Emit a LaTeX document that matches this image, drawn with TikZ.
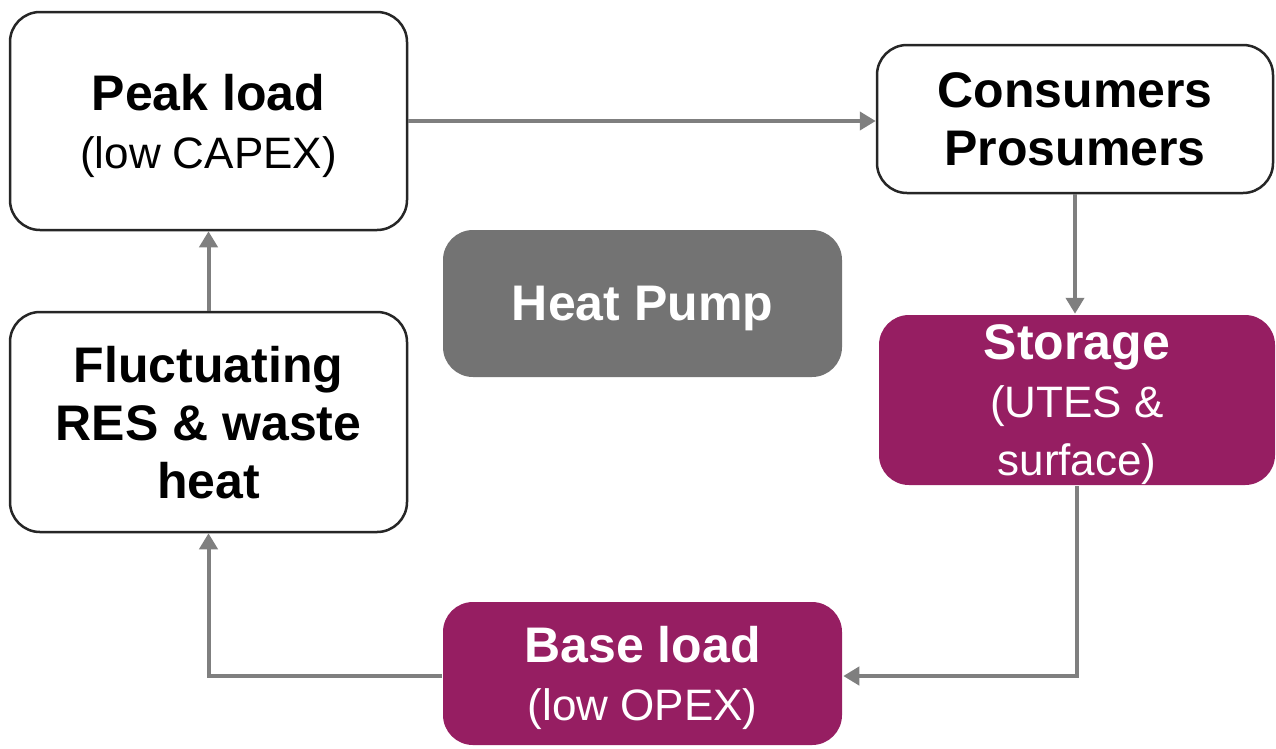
\documentclass[tikz,border=0pt]{standalone}
\usepackage{fontspec}
\setmainfont{Liberation Sans}
\usetikzlibrary{arrows.meta,positioning,calc}
\definecolor{plum}{HTML}{961E62}
\definecolor{pumpgray}{HTML}{737373}
\definecolor{linkgray}{HTML}{7F7F7F}
\newcommand{\bt}[1]{{\fontsize{50}{58}\selectfont\bfseries #1}}
\newcommand{\rt}[1]{{\fontsize{44}{58}\selectfont #1}}

\begin{document}
\begin{tikzpicture}[x=1pt, y=-1pt,
  box/.style={draw=black!85, line width=2.5pt, rounded corners=30pt, fill=white, align=center, inner sep=0pt, text depth=-4pt, font=\fontsize{44}{58}\selectfont},
  darkbox/.style={box, draw=none, fill=#1, text=white},
  link/.style={draw=linkgray, line width=4pt, -{Triangle[length=16pt, width=18pt]}}]
\useasboundingbox (0,0) rectangle (1276,748);
% boxes
\node[box, minimum width=397pt, minimum height=218pt] (peak) at (208.5,121) {\bt{Peak load}\\\rt{(low CAPEX)}};
\node[box, minimum width=396pt, minimum height=148pt] (cons) at (1075,119) {\bt{Consumers}\\\bt{Prosumers}};
\node[darkbox=pumpgray, minimum width=399pt, minimum height=147pt] (hp) at (642.5,303.5) {\bt{Heat Pump}};
\node[box, minimum width=397pt, minimum height=220pt] (fluct) at (208.5,422) {\bt{Fluctuating}\\\bt{RES \& waste}\\\bt{heat}};
\node[darkbox=plum, minimum width=396pt, minimum height=170pt] (stor) at (1077,400) {\bt{Storage}\\\rt{(UTES \&}\\\rt{surface)}};
\node[darkbox=plum, minimum width=399pt, minimum height=143pt] (base) at (642.5,673.5) {\bt{Base load}\\\rt{(low OPEX)}};
% connectors
\draw[link] (peak.east) -- (cons.west |- peak.east);
\draw[link] (cons.south) -- (cons.south |- stor.north);
\draw[link] (stor.south) |- ($(base.east)+(0,2.5)$);
\draw[link] ($(base.west)+(0,2.5)$) -| (fluct.south);
\draw[link] (fluct.north) -- (peak.south);
\end{tikzpicture}
\end{document}
